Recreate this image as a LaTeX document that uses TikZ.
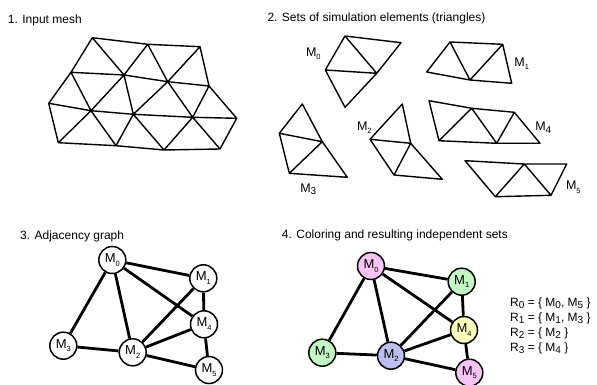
\documentclass[tikz,border=0pt]{standalone}
\usepackage{fontspec}
\setmainfont{Liberation Sans}
\newcommand\msub[1]{\raisebox{-0.28em}{\fontsize{7.5}{7.5}\selectfont #1}}
\newcommand\rsub[1]{\raisebox{-0.22em}{\fontsize{10}{10}\selectfont #1}}
\begin{document}
\begin{tikzpicture}[x=1pt,y=-1pt,
  mesh/.style={line width=1.4pt,line join=round,line cap=round},
  title/.style={anchor=base west,inner sep=0pt,font=\fontsize{12}{14}\selectfont},
  lbl/.style={inner sep=0pt,font=\fontsize{12.5}{14}\selectfont},
  gnode/.style={circle,draw,line width=1.5pt,minimum size=27pt,inner sep=0pt,font=\fontsize{13}{14}\selectfont},
  gedge/.style={line width=2.8pt},
  pinkc/.style={fill={rgb,255:red,248;green,196;blue,246}},
  greenc/.style={fill={rgb,255:red,196;green,246;blue,196}},
  bluec/.style={fill={rgb,255:red,190;green,190;blue,240}},
  yellowc/.style={fill={rgb,255:red,255;green,255;blue,190}},
  rline/.style={anchor=base west,inner sep=0pt,font=\fontsize{12}{14}\selectfont}]
\useasboundingbox (0,0) rectangle (597,385);
% titles
\node[title] (t1) at (7.7,24) {1. Input mesh};
\node[title] (t2) at (267.3,21.3) {2. Sets of simulation elements (triangles)};
\node[title] (t3) at (20,239.3) {3. Adjacency graph};
\node[title] (t4) at (281.7,238.5) {4. Coloring and resulting independent sets};
% panel 1 mesh
\coordinate (A) at (92.3,37.7);
\coordinate (B) at (147.7,44.3);
\coordinate (C) at (200,46.7);
\coordinate (D) at (71,72.3);
\coordinate (E) at (124,75);
\coordinate (F) at (167.7,81.7);
\coordinate (G) at (209,86);
\coordinate (H) at (48.7,103.3);
\coordinate (I) at (91,110.7);
\coordinate (J) at (133.3,114.3);
\coordinate (K) at (192.7,117.3);
\coordinate (L) at (236.7,118.3);
\coordinate (M) at (58.3,142.7);
\coordinate (N) at (116,145.7);
\coordinate (O) at (164,150);
\coordinate (P) at (220,149);
\draw[mesh] (A)--(B)--(C) (A)--(D) (A)--(E) (B)--(E) (B)--(F) (C)--(F) (C)--(G)
  (D)--(E)--(F)--(G) (D)--(H) (D)--(I) (E)--(I) (E)--(J) (F)--(J) (F)--(K) (G)--(K) (G)--(L)
  (H)--(I)--(J)--(K)--(L) (H)--(M) (I)--(M) (I)--(N) (J)--(N) (J)--(O) (K)--(O) (K)--(P) (L)--(P)
  (M)--(N)--(O)--(P);
% panel 2: M0
\coordinate (a0) at (345,36);
\coordinate (b0) at (401,42.7);
\coordinate (c0) at (376.7,73.3);
\coordinate (d0) at (325.3,70);
\coordinate (e0) at (345,107.3);
\draw[mesh] (a0)--(b0)--(c0)--(a0)--(d0)--(c0)--(e0)--(d0);
\node[lbl] (lm0) at (313.3,53.5) {M\msub{0}};
% M1
\coordinate (f1) at (450,42);
\coordinate (g1) at (502.7,44.3);
\coordinate (h1) at (470,80);
\coordinate (i1) at (426.7,72);
\coordinate (j1) at (511.7,83.3);
\draw[mesh] (i1)--(f1)--(g1)--(j1)--(h1)--(i1) (f1)--(h1)--(g1);
\node[lbl] (lm1) at (521.7,63.5) {M\msub{1}};
% M3
\coordinate (p3) at (302.3,104);
\coordinate (q3) at (279.3,133.3);
\coordinate (r3) at (322.3,141.7);
\coordinate (s3) at (289.3,173.3);
\coordinate (t3c) at (347.3,177.3);
\draw[mesh] (p3)--(q3)--(s3)--(t3c)--(r3)--(p3) (q3)--(r3)--(s3);
\node[lbl] (lm3) at (308.3,189.3) {M\rsub{3}};
% M2
\coordinate (u2) at (402.3,104);
\coordinate (v2) at (370,139.3);
\coordinate (w2) at (410.7,143.3);
\coordinate (x2) at (394,175);
\coordinate (y2) at (442.3,179.3);
\draw[mesh] (u2)--(v2)--(x2)--(y2)--(w2)--(u2) (v2)--(w2)--(x2);
\node[lbl] (lm2) at (364.3,127.5) {M\msub{2}};
% M4
\coordinate (k4) at (429,100.7);
\coordinate (l4) at (471.7,108.3);
\coordinate (m4) at (514.3,112.3);
\coordinate (n4) at (439,140.7);
\coordinate (o4) at (496.7,143.3);
\coordinate (z4) at (540,143.3);
\draw[mesh] (k4)--(l4)--(m4)--(z4)--(o4)--(n4)--(k4) (n4)--(l4)--(o4)--(m4);
\node[lbl] (lm4) at (543.3,127.5) {M\rsub{4}};
% M5
\coordinate (s15) at (465,160.7);
\coordinate (s25) at (524.3,164);
\coordinate (s35) at (566.7,164);
\coordinate (b15) at (495.3,196.7);
\coordinate (b25) at (551,195.3);
\draw[mesh] (s15)--(s25)--(s35)--(b25)--(b15)--(s15) (b15)--(s25)--(b25);
\node[lbl] (lm5) at (573.3,187) {M\msub{5}};
% panel 3 graph
\node[gnode] (g0) at (112.3,260) {M\msub{0}};
\node[gnode] (g1) at (203.3,278.3) {M\msub{1}};
\node[gnode] (g4) at (204,324.3) {M\msub{4}};
\node[gnode] (g3) at (63.3,345.7) {M\msub{3}};
\node[gnode] (g2) at (132.7,352.3) {M\msub{2}};
\node[gnode] (g5) at (209,370) {M\msub{5}};
\draw[gedge] (g0)--(g1) (g0)--(g4) (g0)--(g2) (g0)--(g3) (g1)--(g4) (g1)--(g2)
  (g2)--(g4) (g2)--(g3) (g2)--(g5) (g4)--(g5);
% panel 4 graph
\node[gnode,pinkc] (h0) at (371,266) {M\msub{0}};
\node[gnode,greenc] (h1) at (461.7,281.7) {M\msub{1}};
\node[gnode,yellowc] (h4) at (464,330) {M\msub{4}};
\node[gnode,greenc] (h3) at (322.3,352.7) {M\msub{3}};
\node[gnode,bluec] (h2) at (391,355.7) {M\msub{2}};
\node[gnode,pinkc] (h5) at (469.3,372.7) {M\msub{5}};
\draw[gedge] (h0)--(h1) (h0)--(h4) (h0)--(h2) (h0)--(h3) (h1)--(h4) (h1)--(h2)
  (h2)--(h4) (h2)--(h3) (h2)--(h5) (h4)--(h5);
% sets
\node[rline] (r0) at (510,306) {R\rsub{0} = \{ M\rsub{0}, M\rsub{5} \}};
\node[rline] (r1) at (510,321) {R\rsub{1} = \{ M\rsub{1}, M\rsub{3} \}};
\node[rline] (r2) at (510,336) {R\rsub{2} = \{ M\rsub{2} \}};
\node[rline] (r3) at (510,351) {R\rsub{3} = \{ M\rsub{4} \}};
\end{tikzpicture}
\end{document}
